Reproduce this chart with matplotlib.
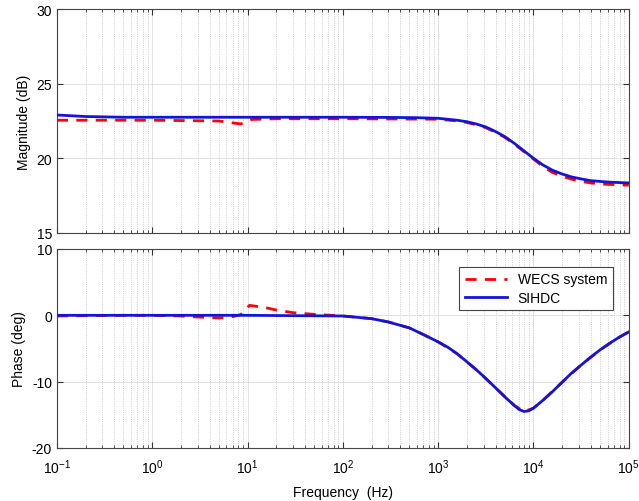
import matplotlib.pyplot as plt
import numpy as np

# frequency points (Hz) and values
f_mag_sihdc = [0.1, 0.2, 0.5, 1, 10, 100, 300, 600, 1000, 1585, 2000, 2512, 3162, 3981, 5012,
               6310, 7943, 10000, 12590, 15850, 19950, 25120, 31620, 39810, 50120, 63100, 100000]
mag_sihdc = [22.9, 22.8, 22.75, 22.75, 22.75, 22.75, 22.74, 22.72, 22.68, 22.55, 22.45, 22.3,
             22.1, 21.8, 21.45, 21.0, 20.5, 20.0, 19.55, 19.2, 18.95, 18.75, 18.62, 18.5, 18.45,
             18.4, 18.35]

f_mag_wecs = [0.1, 1, 5, 8.5, 11, 20, 100, 1000, 1585, 2000, 2512, 3162, 3981, 5012, 6310, 7943,
              10000, 12590, 15850, 19950, 25120, 31620, 39810, 50120, 63100, 100000]
mag_wecs = [22.55, 22.55, 22.5, 22.3, 22.6, 22.65, 22.65, 22.62, 22.5, 22.4, 22.25, 22.05, 21.75,
            21.4, 20.95, 20.45, 19.95, 19.45, 19.05, 18.8, 18.6, 18.45, 18.35, 18.28, 18.25, 18.2]

f_ph_sihdc = [0.1, 10, 30, 100, 200, 300, 500, 700, 1000, 1260, 1585, 2000, 2512, 3162, 3981,
              5012, 6310, 7079, 7943, 8913, 10000, 11220, 12590, 15850, 19950, 25120, 31620,
              39810, 50120, 63100, 79430, 100000]
ph_sihdc = [0, 0, -0.05, -0.1, -0.5, -1.0, -1.9, -2.9, -4.0, -4.8, -5.8, -7.0, -8.2, -9.5, -10.9,
            -12.3, -13.6, -14.2, -14.5, -14.4, -14.0, -13.4, -12.8, -11.5, -10.1, -8.7, -7.5,
            -6.3, -5.2, -4.2, -3.3, -2.5]

f_ph_wecs = [0.1, 0.5, 1, 2, 3, 5, 7, 8.5, 10.5, 15, 20, 30, 50, 100, 200, 300, 500, 700, 1000,
             1585, 2512, 3981, 6310, 7943, 10000, 12590, 19950, 31620, 50120, 79430, 100000]
ph_wecs = [-0.1, 0, 0, -0.1, -0.25, -0.4, -0.2, 0.1, 1.5, 1.2, 0.8, 0.4, 0.15, -0.1, -0.5, -1.0,
           -1.9, -2.9, -4.0, -5.8, -8.2, -10.9, -13.6, -14.5, -14.0, -12.8, -10.1, -7.5, -5.2,
           -3.3, -2.5]

plt.rcParams['font.family'] = 'Liberation Sans'
plt.rcParams['font.size'] = 10
plt.rcParams['axes.unicode_minus'] = False

fig = plt.figure(figsize=(6.39, 5.02), dpi=100, facecolor='white')
ax1 = fig.add_axes([0.089, 0.534, 0.895, 0.446])
ax2 = fig.add_axes([0.089, 0.1056, 0.895, 0.3964])

red = '#ff0000'
blue = '#1414d8'

ax1.semilogx(f_mag_wecs, mag_wecs, '--', color=red, lw=2, dashes=(4, 3), zorder=2)
ax1.semilogx(f_mag_sihdc, mag_sihdc, '-', color=blue, lw=2, zorder=3)
ax2.semilogx(f_ph_wecs, ph_wecs, '--', color=red, lw=2, dashes=(4, 3), label='WECS system', zorder=2)
ax2.semilogx(f_ph_sihdc, ph_sihdc, '-', color=blue, lw=2, label='SIHDC', zorder=3)

for ax in (ax1, ax2):
    ax.set_xlim(0.1, 1e5)
    ax.grid(True, which='major', axis='both', color='#dcdcdc', lw=0.6, ls='-')
    ax.grid(True, which='minor', axis='x', color='#bbbbbb', lw=0.6, ls=':')
    ax.tick_params(which='both', direction='in', top=True, right=True, colors='#333333',
                   labelcolor='black')
    ax.tick_params(which='major', length=4)
    ax.tick_params(which='minor', length=2)
    for s in ax.spines.values():
        s.set_color('#444444')
        s.set_linewidth(0.8)
    ax.set_axisbelow(True)

ax1.set_ylim(15, 30)
ax1.set_yticks([15, 20, 25, 30])
ax1.set_xticklabels([])
ax1.set_ylabel('Magnitude (dB)')

ax2.set_ylim(-20, 10)
ax2.set_yticks([-20, -10, 0, 10])
ax2.set_ylabel('Phase (deg)')
ax2.set_xlabel('Frequency  (Hz)', labelpad=6)
ax2.set_xticks([0.1, 1, 10, 100, 1000, 10000, 100000])
ax2.tick_params(axis='x', which='major', pad=7)

leg = ax2.legend(loc='upper right', bbox_to_anchor=(0.972, 0.91), borderaxespad=0,
                 handlelength=3.0, fancybox=False, framealpha=1, edgecolor='#444444',
                 fontsize=10, borderpad=0.4, labelspacing=0.3)
leg.get_frame().set_linewidth(0.8)

plt.savefig('out.png', dpi=100)
